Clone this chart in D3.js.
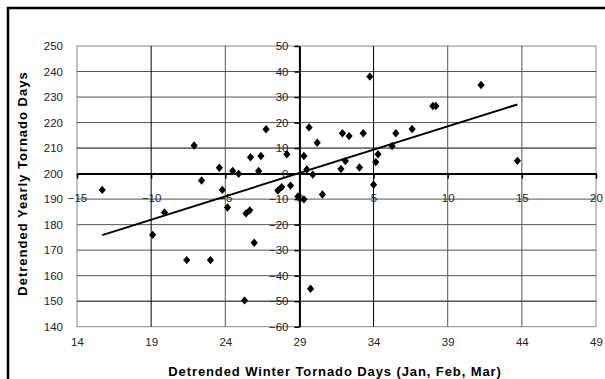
<!DOCTYPE html>
<html>
<head>
<meta charset="utf-8">
<script src="https://cdn.jsdelivr.net/npm/d3@7"></script>
<style>
  body { margin: 0; background: #fff; }
  svg { display: block; font-family: Arial, "Liberation Sans", sans-serif; }
</style>
</head>
<body>
<svg id="chart" width="605" height="379"></svg>
<script>
// winter (Jan-Mar) detrended tornado days vs yearly detrended tornado days
const winterDays = [15.7, 19.1, 19.9, 21.4, 21.9, 22.4, 23.0, 23.6, 23.8, 24.15, 24.5, 24.9,
  25.3, 25.4, 25.65, 25.7, 25.95, 26.25, 26.4, 26.75, 27.55, 27.8, 28.15, 28.4, 28.9, 29.3,
  29.3, 29.5, 29.65, 29.75, 29.9, 30.2, 30.55, 31.8, 31.9, 32.1, 32.35, 33.05, 33.3, 33.75,
  34.0, 34.15, 34.3, 35.25, 35.5, 36.6, 38.0, 38.2, 41.25, 43.7];
const yearlyDays = [193.6, 176.0, 184.8, 166.1, 211.0, 197.3, 166.1, 202.3, 193.6, 186.7, 201.0, 199.9,
  150.3, 184.4, 185.6, 206.4, 172.9, 201.0, 206.9, 217.4, 193.4, 194.7, 207.6, 195.3, 191.0, 189.9,
  206.9, 201.6, 218.1, 154.9, 199.6, 212.1, 191.8, 201.8, 215.8, 204.9, 214.7, 202.4, 215.8, 238.0,
  195.6, 204.5, 207.6, 210.8, 215.8, 217.5, 226.5, 226.5, 234.7, 205.0];

// linear trend line end points
const trendX = [15.7, 43.7];
const trendY = [175.9, 227.1];

// axis ticks
const xTicks = [14, 19, 24, 29, 34, 39, 44, 49];
const yTicks = [140, 150, 160, 170, 180, 190, 200, 210, 220, 230, 240, 250];
const x2Ticks = [-15, -10, -5, 0, 5, 10, 15, 20];
const y2Ticks = [-60, -50, -40, -30, -20, -10, 0, 10, 20, 30, 40, 50];

const svg = d3.select("#chart");
const pLeft = 77, pRight = 596, pTop = 46, pBottom = 326.7;

const x = d3.scaleLinear().domain([14, 49]).range([pLeft, pRight]);
const y = d3.scaleLinear().domain([140, 250]).range([pBottom, pTop]);
const x2 = d3.scaleLinear().domain([-15, 20]).range([pLeft, pRight]);
const y2 = d3.scaleLinear().domain([-60, 50]).range([pBottom, pTop]);

// outer chart border (cut by the window on the right and bottom)
svg.append("rect")
    .attr("x", 8).attr("y", 8)
    .attr("width", 700).attr("height", 500)
    .attr("fill", "none").attr("stroke", "#000").attr("stroke-width", 2.5);

// plot area border
svg.append("rect")
    .attr("x", pLeft).attr("y", pTop)
    .attr("width", pRight - pLeft).attr("height", pBottom - pTop)
    .attr("fill", "none").attr("stroke", "#888").attr("stroke-width", 1);

// gridlines
svg.append("g").selectAll("line")
    .data(yTicks.filter(d => d > 140 && d < 250 && d !== 200))
    .enter().append("line")
    .attr("x1", pLeft).attr("x2", pRight)
    .attr("y1", d => y(d)).attr("y2", d => y(d))
    .attr("stroke", d => (d === 150 || d === 210) ? "#000" : "#555")
    .attr("stroke-width", 1);

svg.append("g").selectAll("line")
    .data(xTicks.filter(d => d > 14 && d < 49 && d !== 29))
    .enter().append("line")
    .attr("x1", d => x(d)).attr("x2", d => x(d))
    .attr("y1", pTop).attr("y2", pBottom)
    .attr("stroke", d => (d === 19 || d === 34) ? "#000" : "#555")
    .attr("stroke-width", 1);

// primary axes labels only
const ax = svg.append("g")
    .attr("transform", `translate(0,${pBottom})`)
    .call(d3.axisBottom(x).tickValues(xTicks).tickSize(0).tickPadding(11));
const ay = svg.append("g")
    .attr("transform", `translate(${pLeft},0)`)
    .call(d3.axisLeft(y).tickValues(yTicks).tickSize(0).tickPadding(14));
[ax, ay].forEach(g => {
    g.select(".domain").remove();
    g.selectAll("text").attr("font-size", 11.5).attr("fill", "#222")
        .attr("font-family", "Arial, 'Liberation Sans', sans-serif");
});

// secondary axes crossing in the middle
const ax2 = svg.append("g")
    .attr("transform", `translate(0,${y2(0)})`)
    .call(d3.axisBottom(x2).tickValues(x2Ticks).tickSize(5).tickPadding(15).tickSizeOuter(0));
const ay2 = svg.append("g")
    .attr("transform", `translate(${x2(0)},0)`)
    .call(d3.axisLeft(y2).tickValues(y2Ticks).tickSize(5).tickPadding(6).tickSizeOuter(0));
[ax2, ay2].forEach(g => {
    g.select(".domain").attr("stroke", "#000").attr("stroke-width", 2);
    g.selectAll(".tick line").attr("stroke", "#000").attr("stroke-width", 1.5);
    g.selectAll("text").attr("font-size", 11.5).attr("fill", "#222")
        .attr("font-family", "Arial, 'Liberation Sans', sans-serif");
});

// trend line
svg.append("line")
    .attr("x1", x(trendX[0])).attr("y1", y(trendY[0]))
    .attr("x2", x(trendX[1])).attr("y2", y(trendY[1]))
    .attr("stroke", "#000").attr("stroke-width", 2);

// diamonds
svg.append("g").selectAll("path")
    .data(winterDays.map((d, i) => [d, yearlyDays[i]]))
    .enter().append("path")
    .attr("d", "M0,-4.2L3.6,0L0,4.2L-3.6,0Z")
    .attr("transform", d => `translate(${x(d[0])},${y(d[1])})`)
    .attr("fill", "#000");

// axis titles
svg.append("text")
    .attr("x", 335).attr("y", 376)
    .attr("text-anchor", "middle")
    .attr("font-size", 13).attr("font-weight", "bold")
    .attr("letter-spacing", 0.9)
    .text("Detrended Winter Tornado Days (Jan, Feb, Mar)");

svg.append("text")
    .attr("transform", `translate(27,183.5) rotate(-90)`)
    .attr("text-anchor", "middle")
    .attr("font-size", 13).attr("font-weight", "bold")
    .attr("letter-spacing", 1)
    .text("Detrended Yearly Tornado Days");
</script>
</body>
</html>
